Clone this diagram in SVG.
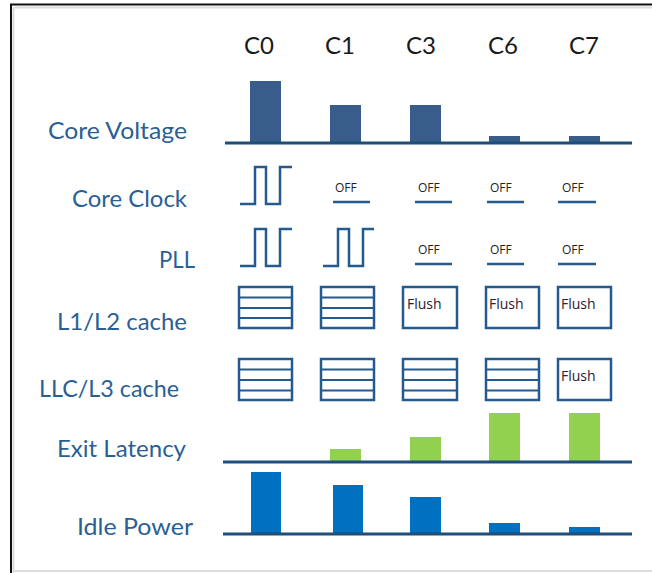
<svg xmlns="http://www.w3.org/2000/svg" width="652" height="573" viewBox="0 0 652 573">
<style>
.hdr{font-family:Lato,"Open Sans","Liberation Sans",sans-serif;font-size:24px;fill:#1a1a1a;text-anchor:middle}
.lbl{font-family:Lato,"Open Sans","Liberation Sans",sans-serif;font-size:23px;fill:#2a5f96}
.off{font-family:"Open Sans","Liberation Sans",sans-serif;font-size:12px;fill:#222}
.fl{font-family:"Open Sans","Liberation Sans",sans-serif;font-size:14px;fill:#2a2030}
.axis{stroke:#1f4e79;stroke-width:3;fill:none}
.wave{stroke:#255a8e;stroke-width:2.5;fill:none}
.ul{stroke:#255a8e;stroke-width:2.5}
.box{stroke:#255a8e;stroke-width:2.5;fill:#fff}
.div{stroke:#255a8e;stroke-width:2}
.vbar{fill:#385d8a}
.gbar{fill:#92d050}
.pbar{fill:#0070c0}
</style>
<rect width="652" height="573" fill="#fff"/>
<g id="frame">
<line x1="13.5" y1="7.5" x2="652" y2="7.5" stroke="#ddd" stroke-width="2"/>
<line x1="13.5" y1="7.5" x2="13.5" y2="573" stroke="#ddd" stroke-width="2"/>
<line x1="13" y1="571" x2="652" y2="571" stroke="#ddd" stroke-width="2"/>
<line x1="10" y1="4.5" x2="652" y2="4.5" stroke="#111" stroke-width="2"/>
<line x1="11" y1="4" x2="11" y2="573" stroke="#111" stroke-width="2"/>
</g>
<g id="headers">
<text class="hdr" x="259" y="54">C0</text>
<text class="hdr" x="340" y="54">C1</text>
<text class="hdr" x="421" y="54">C3</text>
<text class="hdr" x="503" y="54">C6</text>
<text class="hdr" x="584" y="54">C7</text>
</g>
<g id="labels">
<text class="lbl" x="48" y="139" textLength="139" lengthAdjust="spacingAndGlyphs">Core Voltage</text>
<text class="lbl" x="72" y="207" textLength="115" lengthAdjust="spacingAndGlyphs">Core Clock</text>
<text class="lbl" x="159" y="268" textLength="36" lengthAdjust="spacingAndGlyphs">PLL</text>
<text class="lbl" x="57" y="330" textLength="130" lengthAdjust="spacingAndGlyphs">L1/L2 cache</text>
<text class="lbl" x="39" y="397" textLength="140" lengthAdjust="spacingAndGlyphs">LLC/L3 cache</text>
<text class="lbl" x="57" y="457" textLength="129" lengthAdjust="spacingAndGlyphs">Exit Latency</text>
<text class="lbl" x="77" y="535" textLength="116" lengthAdjust="spacingAndGlyphs">Idle Power</text>
</g>
<g id="core-voltage">
<rect class="vbar" x="250" y="81" width="31" height="62"/>
<rect class="vbar" x="330" y="105" width="31" height="38"/>
<rect class="vbar" x="410" y="105" width="31" height="38"/>
<rect class="vbar" x="489" y="136" width="31" height="7"/>
<rect class="vbar" x="569" y="136" width="31" height="7"/>
<line class="axis" x1="225" y1="143" x2="632" y2="143"/>
</g>
<g id="core-clock">
<path class="wave" d="M240,204 H255 V167 H266 V204 H280 V167 H292"/>
<text class="off" x="335" y="192">OFF</text>
<line class="ul" x1="333" y1="202" x2="370" y2="202"/>
<text class="off" x="418" y="192">OFF</text>
<line class="ul" x1="415" y1="202" x2="452" y2="202"/>
<text class="off" x="490" y="192">OFF</text>
<line class="ul" x1="487" y1="202" x2="524" y2="202"/>
<text class="off" x="562" y="192">OFF</text>
<line class="ul" x1="558" y1="202" x2="596" y2="202"/>
</g>
<g id="pll">
<path class="wave" d="M240,266 H255 V229 H266 V266 H280 V229 H292"/>
<path class="wave" d="M323,266 H338 V229 H349 V266 H363 V229 H374"/>
<text class="off" x="418" y="254">OFF</text>
<line class="ul" x1="415" y1="264" x2="452" y2="264"/>
<text class="off" x="490" y="254">OFF</text>
<line class="ul" x1="487" y1="264" x2="524" y2="264"/>
<text class="off" x="562" y="254">OFF</text>
<line class="ul" x1="558" y1="264" x2="596" y2="264"/>
</g>
<g id="l1l2-cache">
<rect class="box" x="239" y="287" width="53" height="41"/>
<line class="div" x1="239" y1="297.5" x2="292" y2="297.5"/>
<line class="div" x1="239" y1="308" x2="292" y2="308"/>
<line class="div" x1="239" y1="318" x2="292" y2="318"/>
<rect class="box" x="321" y="287" width="53" height="41"/>
<line class="div" x1="321" y1="297.5" x2="374" y2="297.5"/>
<line class="div" x1="321" y1="308" x2="374" y2="308"/>
<line class="div" x1="321" y1="318" x2="374" y2="318"/>
<rect class="box" x="403" y="287" width="54" height="41"/>
<text class="fl" x="407" y="309">Flush</text>
<rect class="box" x="486" y="287" width="53" height="41"/>
<text class="fl" x="489" y="309">Flush</text>
<rect class="box" x="558" y="287" width="53" height="41"/>
<text class="fl" x="561" y="309">Flush</text>
</g>
<g id="llc-l3-cache">
<rect class="box" x="239" y="359" width="53" height="41"/>
<line class="div" x1="239" y1="369.5" x2="292" y2="369.5"/>
<line class="div" x1="239" y1="380" x2="292" y2="380"/>
<line class="div" x1="239" y1="390.5" x2="292" y2="390.5"/>
<rect class="box" x="321" y="359" width="53" height="41"/>
<line class="div" x1="321" y1="369.5" x2="374" y2="369.5"/>
<line class="div" x1="321" y1="380" x2="374" y2="380"/>
<line class="div" x1="321" y1="390.5" x2="374" y2="390.5"/>
<rect class="box" x="403" y="359" width="54" height="41"/>
<line class="div" x1="403" y1="369.5" x2="457" y2="369.5"/>
<line class="div" x1="403" y1="380" x2="457" y2="380"/>
<line class="div" x1="403" y1="390.5" x2="457" y2="390.5"/>
<rect class="box" x="486" y="359" width="53" height="41"/>
<line class="div" x1="486" y1="369.5" x2="539" y2="369.5"/>
<line class="div" x1="486" y1="380" x2="539" y2="380"/>
<line class="div" x1="486" y1="390.5" x2="539" y2="390.5"/>
<rect class="box" x="558" y="359" width="53" height="41"/>
<text class="fl" x="561" y="381">Flush</text>
</g>
<g id="exit-latency">
<rect class="gbar" x="330" y="449" width="31" height="13"/>
<rect class="gbar" x="410" y="437" width="31" height="25"/>
<rect class="gbar" x="489" y="413" width="31" height="49"/>
<rect class="gbar" x="569" y="413" width="31" height="49"/>
<line class="axis" x1="223" y1="462" x2="632" y2="462"/>
</g>
<g id="idle-power">
<rect class="pbar" x="251" y="472" width="30" height="62"/>
<rect class="pbar" x="333" y="485" width="30" height="49"/>
<rect class="pbar" x="410" y="497" width="31" height="37"/>
<rect class="pbar" x="489" y="523" width="31" height="11"/>
<rect class="pbar" x="569" y="527" width="31" height="7"/>
<line class="axis" x1="223" y1="534" x2="632" y2="534"/>
</g>
</svg>
